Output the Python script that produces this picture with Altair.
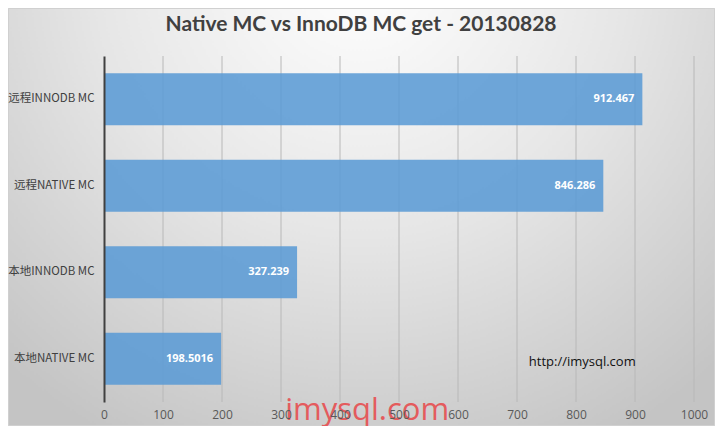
import altair as alt
import pandas as pd

categories = ["远程INNODB MC", "远程NATIVE MC", "本地INNODB MC", "本地NATIVE MC"]
values = [912.467, 846.286, 327.239, 198.5016]
value_labels = ["912.467", "846.286", "327.239", "198.5016"]
ticks = [0, 100, 200, 300, 400, 500, 600, 700, 800, 900, 1000]
grid_ticks = [100, 200, 300, 400, 500, 600, 700, 800, 900, 1000]
title_text = "Native MC vs InnoDB MC get - 20130828"
note_text = "http://imysql.com"
watermark_text = "imysql.com"

W, H = 590, 346
PL, PT, PR, PB = 96, 48, 21, 24

df = pd.DataFrame({"cat": categories, "value": values, "label": value_labels})
grid_df = pd.DataFrame({"g": grid_ticks})

xscale = alt.Scale(domain=[0, 1000], nice=False)
yscale = alt.Scale(domain=categories, paddingInner=0.4, paddingOuter=0.2)

bg = alt.Chart(pd.DataFrame({"a": [0]})).mark_rect(
    clip=False,
    stroke="#d0d0d0",
    strokeWidth=1,
    color={
        "gradient": "radial",
        "x1": 0.5, "y1": 0.15, "r1": 0,
        "x2": 0.5, "y2": 0.15, "r2": 0.75,
        "stops": [
            {"offset": 0, "color": "#ffffff"},
            {"offset": 0.5, "color": "#e6e6e6"},
            {"offset": 1, "color": "#c4c4c4"},
        ],
    },
).encode(
    x=alt.value(-PL + 0.5), x2=alt.value(W + PR - 0.5),
    y=alt.value(-PT + 0.5), y2=alt.value(H + PB - 0.5),
)

grid = alt.Chart(grid_df).mark_rule(color="#b8b8b8", strokeWidth=1).encode(
    x=alt.X("g:Q", scale=xscale),
    y=alt.value(0), y2=alt.value(H),
)

bars = alt.Chart(df).mark_bar(color="#5b9bd5", opacity=0.88).encode(
    x=alt.X("value:Q", scale=xscale,
            axis=alt.Axis(values=ticks, grid=False, domain=False, ticks=False, format="d",
                          labelColor="#595959", labelFontSize=12, labelFont="Open Sans",
                          labelPadding=7, title=None, zindex=1, labelFlush=False)),
    y=alt.Y("cat:N", scale=yscale, sort=categories,
            axis=alt.Axis(title=None, ticks=False, domainColor="#404040", domainWidth=2,
                          labelColor="#404040", labelFontSize=11.5,
                          labelFont="Noto Sans CJK SC", labelPadding=10, zindex=1)),
)

labels = alt.Chart(df).mark_text(
    align="right", baseline="middle", dx=-8, color="white",
    fontWeight="bold", fontSize=11, font="Open Sans",
).encode(
    x=alt.X("value:Q", scale=xscale),
    y=alt.Y("cat:N", scale=yscale, sort=categories),
    text=alt.Text("label:N"),
)

note = alt.Chart(pd.DataFrame({"x": [720], "t": [note_text]})).mark_text(
    align="left", baseline="middle", fontSize=13, font="Open Sans", color="#111111",
).encode(x=alt.X("x:Q", scale=xscale), y=alt.value(306), text="t:N")

watermark = alt.Chart(pd.DataFrame({"x": [307], "t": [watermark_text]})).mark_text(
    align="left", baseline="middle", fontSize=31, font="Open Sans", color="#e8474a",
    opacity=0.85, clip=False,
).encode(x=alt.X("x:Q", scale=xscale), y=alt.value(355), text="t:N")

title = alt.Chart(pd.DataFrame({"t": [title_text]})).mark_text(
    align="center", baseline="middle", fontSize=21, font="Lato", fontWeight="bold",
    color="#404040", clip=False,
).encode(x=alt.value(W / 2 - 38), y=alt.value(-31), text="t:N")

chart = alt.layer(bg, grid, bars, labels, note, watermark, title).properties(
    width=W, height=H,
    padding={"left": PL, "top": PT, "right": PR, "bottom": PB},
    autosize=alt.AutoSizeParams(type="none"),
).configure_view(stroke=None).configure(background="#dcdcdc")

chart.save("out.html", embed_options={"renderer": "svg", "actions": False})
